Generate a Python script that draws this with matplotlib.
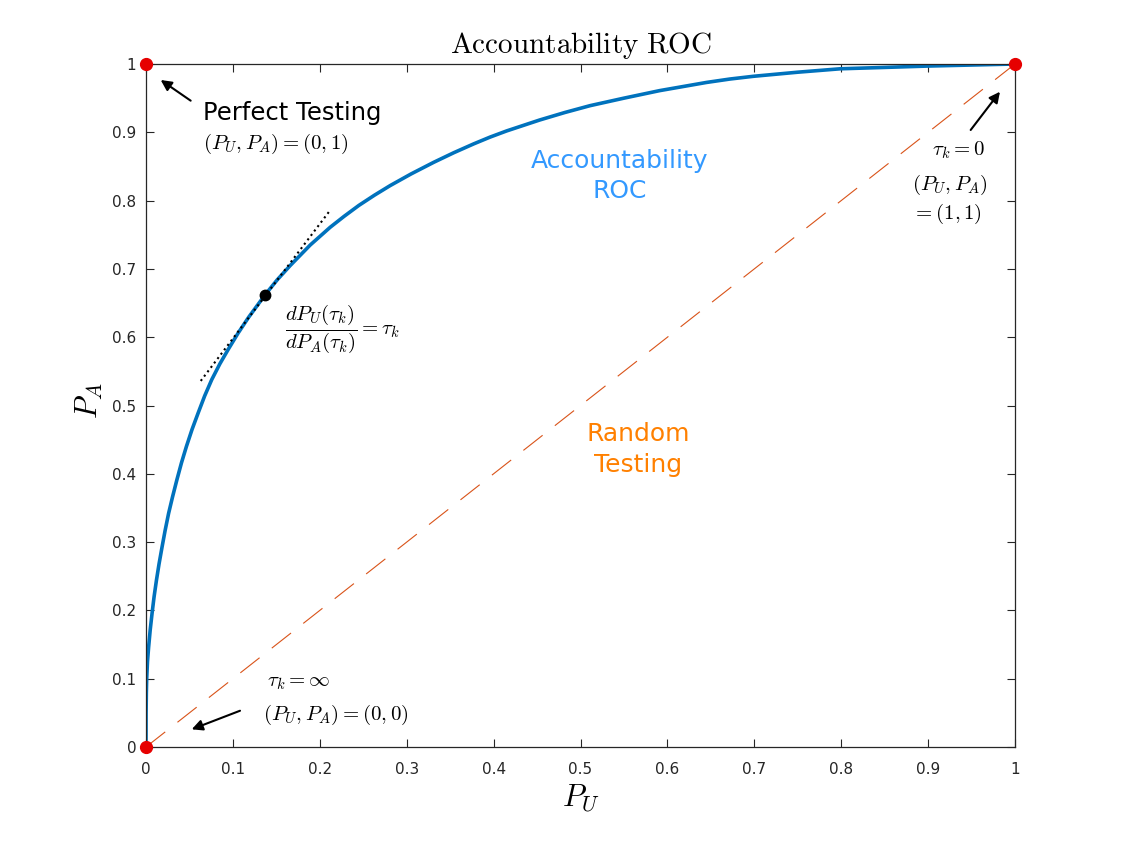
import matplotlib
matplotlib.use("Agg")
import matplotlib.pyplot as plt

plt.rcParams['mathtext.fontset'] = 'cm'
plt.rcParams['font.family'] = ['DejaVu Sans']

# ---- data ----
roc_pu = [0, 0.00005, 0.0001, 0.0004, 0.0008, 0.0017, 0.0030, 0.0048, 0.0070, 0.0093,
          0.0120, 0.0150, 0.0185, 0.0220, 0.026, 0.0305, 0.0355, 0.0408, 0.0465, 0.053,
          0.060, 0.0675, 0.0757, 0.085, 0.095, 0.106, 0.118, 0.137, 0.151, 0.166,
          0.189, 0.212, 0.228, 0.245, 0.263, 0.281, 0.305, 0.331, 0.354, 0.377,
          0.396, 0.415, 0.434, 0.453, 0.482, 0.511, 0.55, 0.591, 0.618, 0.645,
          0.672, 0.699, 0.75, 0.799, 0.85, 0.9, 0.95, 1.0]
roc_pa = [0, 0.02, 0.049, 0.08, 0.100, 0.125, 0.146, 0.171, 0.196, 0.220,
          0.244, 0.268, 0.293, 0.317, 0.342, 0.366, 0.391, 0.416, 0.440, 0.465,
          0.489, 0.514, 0.538, 0.561, 0.583, 0.606, 0.629, 0.662, 0.684, 0.705,
          0.735, 0.761, 0.777, 0.793, 0.808, 0.822, 0.839, 0.856, 0.870, 0.883,
          0.893, 0.902, 0.910, 0.918, 0.929, 0.939, 0.950, 0.961, 0.967, 0.973,
          0.978, 0.982, 0.988, 0.993, 0.995, 0.997, 0.9985, 1.0]

random_pu = [0, 1]
random_pa = [0, 1]

corner_pu = [0, 0, 1]
corner_pa = [0, 1, 1]

tangent_point = (0.137, 0.662)
tangent_pu = [0.063, 0.212]
tangent_pa = [0.536, 0.786]

ticks = [0, 0.1, 0.2, 0.3, 0.4, 0.5, 0.6, 0.7, 0.8, 0.9, 1]
tick_labels = ['0', '0.1', '0.2', '0.3', '0.4', '0.5', '0.6', '0.7', '0.8', '0.9', '1']

# ---- figure ----
W, H = 1121, 841
fig = plt.figure(figsize=(W / 100, H / 100), dpi=100)
fig.patch.set_facecolor('white')
ax = fig.add_axes([146 / W, (H - 747) / H, 869 / W, 683 / H])

ax.plot(random_pu, random_pa, color='#D95319', lw=0.8, dashes=(22, 14))
ax.plot(roc_pu, roc_pa, color='#0072BD', lw=2.6, solid_joinstyle='round')
ax.plot(tangent_pu, tangent_pa, color='k', lw=1.5, linestyle=':')
ax.plot([tangent_point[0]], [tangent_point[1]], 'o', color='k', ms=7.5, zorder=5)
ax.plot(corner_pu, corner_pa, 'o', color='#E60000', ms=8.5, clip_on=False, zorder=6)

ax.set_xlim(0, 1)
ax.set_ylim(0, 1)
ax.set_xticks(ticks)
ax.set_xticklabels(tick_labels)
ax.set_yticks(ticks)
ax.set_yticklabels(tick_labels)
ax.tick_params(direction='in', length=6, width=0.8, colors='#262626',
               labelsize=11, top=True, right=True)
ax.tick_params(axis='x', pad=11)
ax.tick_params(axis='y', pad=7)
for s in ax.spines.values():
    s.set_color('#262626')
    s.set_linewidth(0.9)

ax.set_title(r'$\mathrm{Accountability\ ROC}$', fontsize=21, pad=8)
ax.set_xlabel(r'$P_U$', fontsize=22)
ax.xaxis.set_label_coords(0.5, -0.052)
ax.set_ylabel(r'$P_A$', fontsize=22)
ax.yaxis.set_label_coords(-0.047, 0.507)

# ---- annotations ----
arrow = dict(arrowstyle='-|>', color='k', lw=1.5, mutation_scale=16, shrinkA=0, shrinkB=0)
ax.annotate('', xy=(0.0169, 0.9766), xytext=(0.0514, 0.9463), arrowprops=arrow)
ax.annotate('', xy=(0.9827, 0.9594), xytext=(0.949, 0.9034), arrowprops=arrow)
ax.annotate('', xy=(0.0526, 0.0259), xytext=(0.1082, 0.0531), arrowprops=arrow)

ax.text(0.0656, 0.918, 'Perfect Testing', fontsize=17.5, ha='left', va='baseline')
ax.text(0.0656, 0.8825, r'$(P_U, P_A) = (0,1)$', fontsize=15, ha='left', va='center')

ax.text(0.16, 0.613, r'$\dfrac{dP_U(\tau_k)}{dP_A(\tau_k)} = \tau_k$', fontsize=15,
        ha='left', va='center')

ax.text(0.904, 0.874, r'$\tau_k = 0$', fontsize=15, ha='left', va='center')
ax.text(0.882, 0.823, r'$(P_U, P_A)$', fontsize=15, ha='left', va='center')
ax.text(0.881, 0.781, r'$= (1,1)$', fontsize=15, ha='left', va='center')

ax.text(0.139, 0.0956, r'$\tau_k = \infty$', fontsize=15, ha='left', va='center')
ax.text(0.135, 0.0469, r'$(P_U, P_A) = (0,0)$', fontsize=15, ha='left', va='center')

ax.text(0.5455, 0.836, 'Accountability\nROC', fontsize=18, color='#3399FF',
        ha='center', va='center', multialignment='center', linespacing=1.35)
ax.text(0.566, 0.436, 'Random\nTesting', fontsize=18, color='#FF8000',
        ha='center', va='center', multialignment='center', linespacing=1.35)

fig.savefig('out.png', dpi=100, facecolor='white')
